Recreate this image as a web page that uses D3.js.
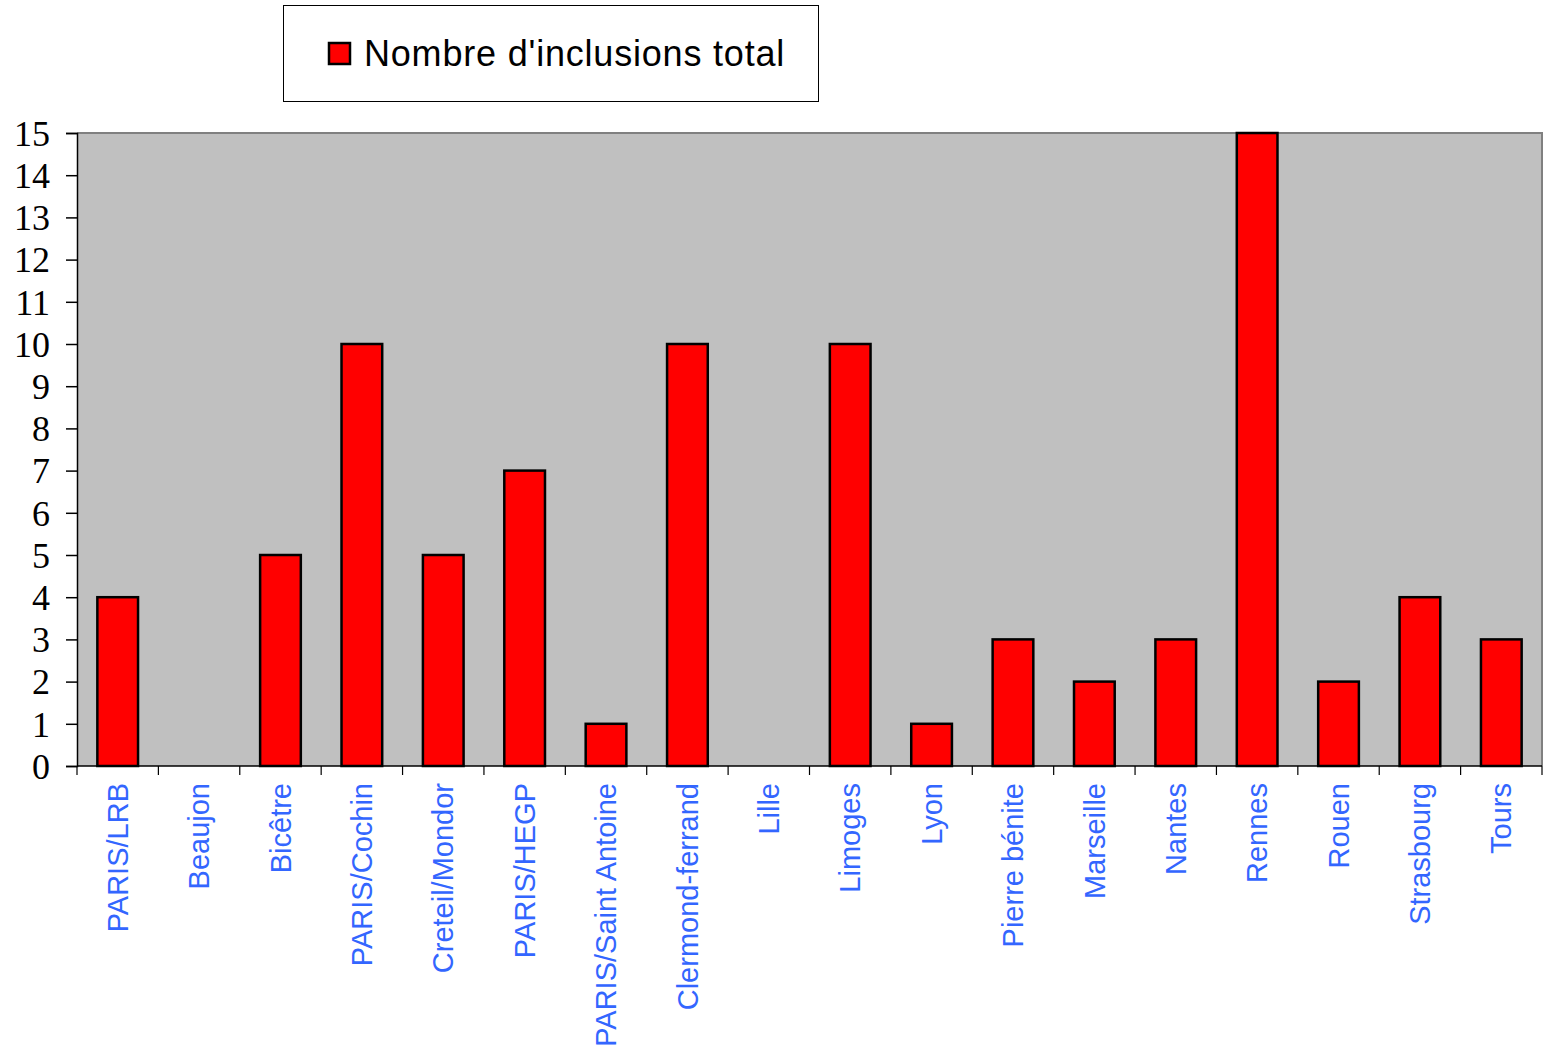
<!DOCTYPE html>
<html>
<head>
<meta charset="utf-8">
<script src="https://cdn.jsdelivr.net/npm/d3@7"></script>
<style>
  html, body { margin: 0; padding: 0; background: #ffffff; }
  svg { display: block; }
</style>
</head>
<body>
<script>
// Inclusions per centre
const categories = ["PARIS/LRB", "Beaujon", "Bicêtre", "PARIS/Cochin", "Creteil/Mondor", "PARIS/HEGP",
  "PARIS/Saint Antoine", "Clermond-ferrand", "Lille", "Limoges", "Lyon", "Pierre bénite",
  "Marseille", "Nantes", "Rennes", "Rouen", "Strasbourg", "Tours"];
const values = [4, 0, 5, 10, 5, 7, 1, 10, 0, 10, 1, 3, 2, 3, 15, 2, 4, 3];
const yTicks = [0, 1, 2, 3, 4, 5, 6, 7, 8, 9, 10, 11, 12, 13, 14, 15];
const seriesName = "Nombre d'inclusions total";

const W = 1543, H = 1050;
const plot = { left: 77, right: 1542, top: 133, bottom: 766 };

const svg = d3.select("body").append("svg").attr("width", W).attr("height", H);

const x = d3.scaleBand().domain(categories)
  .range([plot.left, plot.right]).paddingInner(0.5).paddingOuter(0.25);
const y = d3.scaleLinear().domain([0, 15]).range([plot.bottom, plot.top]);

// plot background
svg.append("rect")
  .attr("x", plot.left).attr("y", plot.top)
  .attr("width", plot.right - plot.left).attr("height", plot.bottom - plot.top)
  .attr("fill", "#c0c0c0");
// top and right frame
svg.append("path")
  .attr("d", `M${plot.left},${plot.top}H${plot.right}V${plot.bottom}`)
  .attr("fill", "none").attr("stroke", "#808080").attr("stroke-width", 2);

// bars
svg.append("g").selectAll("rect").data(categories.map((c, i) => ({ c, v: values[i] })).filter(d => d.v > 0))
  .join("rect")
  .attr("x", d => x(d.c))
  .attr("y", d => y(d.v))
  .attr("width", x.bandwidth())
  .attr("height", d => y(0) - y(d.v))
  .attr("fill", "#ff0000")
  .attr("stroke", "#000000")
  .attr("stroke-width", 2.5);

// y axis
const yAxis = svg.append("g").attr("transform", `translate(${plot.left},0)`)
  .call(d3.axisLeft(y).tickValues(yTicks).tickSize(11).tickPadding(16).tickFormat(d3.format("d")));
yAxis.select(".domain").attr("stroke", "#000").attr("stroke-width", 1.5);
yAxis.selectAll(".tick line").attr("stroke", "#000").attr("stroke-width", 1.5);
yAxis.selectAll(".tick text")
  .attr("font-family", "'Liberation Serif', 'Times New Roman', serif")
  .attr("font-size", 36).attr("fill", "#000").attr("dy", "0.34em");

// x axis: ticks at band boundaries
const step = x.step();
const xAxisG = svg.append("g");
xAxisG.append("line")
  .attr("x1", plot.left).attr("x2", plot.right)
  .attr("y1", plot.bottom).attr("y2", plot.bottom)
  .attr("stroke", "#000").attr("stroke-width", 1.5);
xAxisG.selectAll("line.tk").data(d3.range(categories.length + 1))
  .join("line").attr("class", "tk")
  .attr("x1", i => plot.left + i * step).attr("x2", i => plot.left + i * step)
  .attr("y1", plot.bottom).attr("y2", plot.bottom + 9)
  .attr("stroke", "#000").attr("stroke-width", 1.2);
xAxisG.selectAll("text").data(categories).join("text")
  .attr("transform", d => `translate(${x(d) + x.bandwidth() / 2},${plot.bottom + 17}) rotate(-90)`)
  .attr("text-anchor", "end")
  .attr("dy", "0.35em")
  .attr("font-family", "'Liberation Sans', Arial, sans-serif")
  .attr("font-size", 29)
  .attr("fill", "#3366ff")
  .text(d => d);

// legend
const lg = svg.append("g");
lg.append("rect").attr("x", 283.5).attr("y", 5.5).attr("width", 535).attr("height", 96)
  .attr("fill", "#fff").attr("stroke", "#000").attr("stroke-width", 1);
lg.append("rect").attr("x", 329).attr("y", 43).attr("width", 21).attr("height", 21)
  .attr("fill", "#ff0000").attr("stroke", "#000").attr("stroke-width", 2.5);
lg.append("text").attr("x", 364).attr("y", 66)
  .attr("font-family", "'Liberation Sans', Arial, sans-serif")
  .attr("font-size", 36).attr("letter-spacing", 0.8).attr("fill", "#000")
  .text(seriesName);
</script>
</body>
</html>
